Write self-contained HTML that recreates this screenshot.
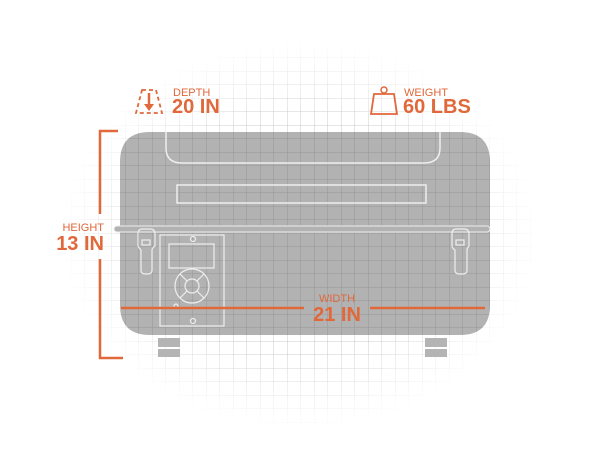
<!DOCTYPE html>
<html><head><style>
html,body{margin:0;padding:0;background:#fff;}
svg{display:block;}
text{font-family:"Liberation Sans",sans-serif;fill:#e0683a;}
</style></head><body>
<svg width="600" height="467" viewBox="0 0 600 467" xmlns="http://www.w3.org/2000/svg">
<defs>
<pattern id="g" x="4" y="4" width="13.5" height="13.5" patternUnits="userSpaceOnUse">
<path d="M13.5 0V13.5M0 13.5H13.5" stroke="#c8c8c8" stroke-width="1" fill="none"/>
</pattern>
<pattern id="gd" x="4" y="4" width="13.5" height="13.5" patternUnits="userSpaceOnUse">
<path d="M13.5 0V13.5M0 13.5H13.5" stroke="#808080" stroke-width="1" fill="none"/>
</pattern>
<radialGradient id="rg" cx="0.5" cy="0.5" r="0.5">
<stop offset="0.6" stop-color="#fff" stop-opacity="1"/>
<stop offset="1" stop-color="#fff" stop-opacity="0"/>
</radialGradient>
<mask id="m"><rect x="60" y="40" width="480" height="390" fill="url(#rg)"/></mask>
<clipPath id="bc"><path d="M150 132 H460 Q490 132 490 162 V305 Q490 335 460 335 H150 Q120 335 120 305 V162 Q120 132 150 132Z"/></clipPath>
</defs>
<rect x="60" y="40" width="480" height="390" fill="url(#g)" mask="url(#m)"/>
<path d="M150 132 H460 Q490 132 490 162 V305 Q490 335 460 335 H150 Q120 335 120 305 V162 Q120 132 150 132Z" fill="#b2b2b2"/>
<rect x="120" y="132" width="370" height="203" fill="url(#gd)" clip-path="url(#bc)" opacity="0.55"/>
<path d="M166 132 V148 Q166 163 182 163 H424 Q440 163 440 148 V132" fill="none" stroke="#eee" stroke-width="1.5"/>
<rect x="177" y="185" width="249" height="18" fill="none" stroke="#eee" stroke-width="1.5"/>
<rect x="114" y="226" width="376" height="6" rx="3" fill="#b2b2b2" stroke="#eee" stroke-width="1"/>
<g fill="none" stroke="#eee" stroke-width="1.2">
<path d="M138 234 Q138 229 142 229 H150 Q155 229 155 234 V246 Q152 248 152 250 V270 Q152 274 148 274 H145 Q141 274 141 270 V250 Q139 248 138 246Z"/>
<rect x="142" y="240" width="8" height="5"/>
<path d="M452 234 Q452 229 456 229 H464 Q469 229 469 234 V246 Q467 248 467 250 V270 Q467 274 463 274 H459 Q455 274 455 270 V250 Q452 248 452 246Z"/>
<rect x="456" y="240" width="8" height="5"/>
<rect x="160" y="235" width="64" height="91"/>
<rect x="169" y="244" width="45" height="24"/>
<circle cx="192" cy="286" r="17"/>
<circle cx="192" cy="286" r="7"/>
<path d="M180 274 L187 281 M204 274 L197 281 M180 298 L187 291 M204 298 L197 291"/>
<circle cx="193" cy="239" r="2.5"/>
<circle cx="193" cy="321" r="2.5"/>
<circle cx="176" cy="306" r="2"/>
</g>
<rect x="158" y="338" width="22" height="9" fill="#b4b4b4"/>
<rect x="158" y="349" width="22" height="8" fill="#b4b4b4"/>
<rect x="425" y="338" width="22" height="9" fill="#b4b4b4"/>
<rect x="425" y="349" width="22" height="8" fill="#b4b4b4"/>
<g stroke="#e0683a" stroke-width="2.5" fill="none">
<path d="M118 131 H100 V214"/>
<path d="M100 259 V358 H123"/>
<path d="M121 308 H304 M370 308 H485"/>
</g>
<text x="104" y="231" font-size="11" text-anchor="end">HEIGHT</text>
<text x="104" y="250" font-size="20" font-weight="bold" text-anchor="end">13 IN</text>
<text x="337" y="302" font-size="11" text-anchor="middle">WIDTH</text>
<text x="337" y="321" font-size="20" font-weight="bold" text-anchor="middle">21 IN</text>
<path d="M142 90 H156 L162 113 H136 Z" fill="none" stroke="#e0683a" stroke-width="1.8" stroke-dasharray="4 3"/>
<path d="M149 93 V106" stroke="#e0683a" stroke-width="2.5"/>
<path d="M144 104 L149 111 L154 104Z" fill="#e0683a"/>
<text x="173" y="96" font-size="11">DEPTH</text>
<text x="172" y="113" font-size="20" font-weight="bold">20 IN</text>
<path d="M374 94 H394 L397 114 H371 Z" fill="none" stroke="#e0683a" stroke-width="1.8"/>
<circle cx="384" cy="90" r="3" fill="none" stroke="#e0683a" stroke-width="1.5"/>
<text x="404" y="96" font-size="11">WEIGHT</text>
<text x="403" y="113" font-size="20" font-weight="bold">60 LBS</text>
</svg>
</body></html>
